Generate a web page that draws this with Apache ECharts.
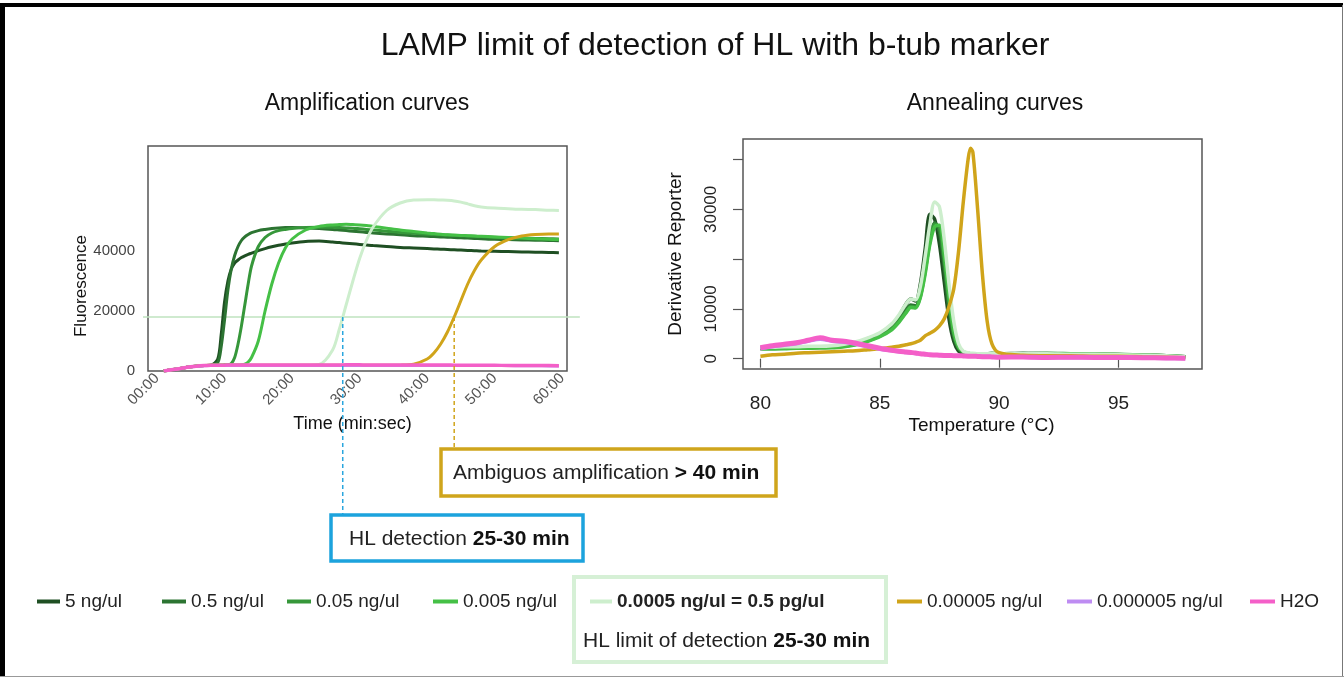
<!DOCTYPE html>
<html>
<head>
<meta charset="utf-8">
<script src="https://cdn.jsdelivr.net/npm/echarts@6/dist/echarts.min.js"></script>
<style>
html,body{margin:0;padding:0;background:#fff;}
#chart{width:1344px;height:677px;}
</style>
</head>
<body>
<div id="chart"></div>
<script>
// ---------- DATA ----------
const seriesNames = ['5 ng/ul', '0.5 ng/ul', '0.05 ng/ul', '0.005 ng/ul', '0.0005 ng/ul', '0.00005 ng/ul', '0.000005 ng/ul', 'H2O'];

// Amplification curves: time in minutes, fluorescence
const ampTime = [1,3,5,7,8,9,9.5,10,10.5,11,11.5,12,12.5,13,13.5,14,15,16,17,18,19,20,22,24,26,27,28,29,30,31,32,34,36,38,40,41,42,43,44,45,46,47,48,50,52,54,56,58,59.5];
const amp5ng = [0,700,1400,1800,1900,4000,12000,23000,30000,34000,36000,37000,37800,38400,38900,39300,40100,40800,41400,41900,42300,42700,43200,43300,43000,42800,42600,42400,42200,42000,41800,41500,41200,41000,40800,40700,40600,40500,40400,40300,40200,40100,40000,39900,39800,39700,39600,39500,39400];
const amp05ng = [0,700,1400,1800,1900,2800,8000,17000,27000,34000,38500,41500,43500,44700,45500,46100,46800,47200,47500,47700,47800,47800,47700,47500,47200,47000,46800,46600,46400,46200,46000,45700,45400,45100,44900,44800,44700,44600,44500,44400,44300,44200,44100,43900,43800,43700,43600,43500,43400];
const amp005ng = [0,700,1400,1800,1900,1950,2000,2050,2100,2500,4500,9000,15000,22000,29000,35000,41500,44500,46000,46800,47200,47500,47800,47900,47900,47800,47700,47600,47400,47200,47000,46600,46200,45900,45600,45500,45400,45300,45200,45100,45000,44900,44800,44600,44400,44300,44200,44100,44000];
const amp0005ng = [0,700,1400,1800,1900,1950,1950,1950,1950,2000,2000,2000,2100,2300,3000,4500,10000,20000,29000,36000,41000,44000,47000,48200,48700,48800,48900,48800,48700,48500,48200,47600,47000,46500,46000,45800,45600,45400,45300,45200,45100,45000,44900,44700,44500,44300,44100,43900,43800];
const amp00005ng = [0,700,1400,1800,1900,1900,1900,1900,1900,1900,1900,1900,1900,1900,1900,1900,1900,1900,1900,1900,1900,1950,1950,2200,7000,14000,22000,30000,37500,43500,48000,53500,56000,57000,57100,57100,57000,56900,56700,56300,55700,55100,54700,54300,54100,53900,53800,53600,53500];
const amp000005ng = [0,700,1400,1800,1900,1900,1900,1900,1900,1900,1900,1900,1900,1900,1900,1900,1900,1900,1900,1900,1900,1900,1900,1900,1900,1900,1900,1900,1900,1900,1900,1900,1950,2300,4000,6000,9000,13000,18000,23500,29000,33500,37000,41500,43800,45000,45500,45700,45700];
const amp0000005ng = [0,700,1400,1750,1850,1850,1850,1850,1850,1850,1850,1850,1850,1850,1850,1850,1850,1850,1850,1850,1850,1850,1850,1850,1850,1850,1850,1850,1850,1850,1850,1850,1850,1850,1850,1850,1850,1850,1850,1850,1850,1850,1800,1800,1800,1750,1750,1700,1700];
const ampH2O = [0,700,1400,1800,1900,1950,1950,1950,2000,2000,2000,2000,2000,2000,2000,2000,2000,2000,2000,2000,2000,2000,2000,2000,2000,2000,2050,2050,2050,2000,2000,2000,2000,2000,2000,2000,2000,2000,1950,1950,1950,1900,1900,1900,1850,1850,1800,1800,1750];

// Annealing curves: temperature in °C, derivative reporter
const annealTemp = [80,80.5,81,81.5,82,82.5,83,83.5,84,84.5,85,85.5,85.8,86.1,86.3,86.5,86.7,86.9,87.1,87.3,87.5,87.7,87.9,88.1,88.3,88.5,88.7,88.8,88.9,89.1,89.3,89.5,89.7,90,91,92,93,94,95,96,97,97.8];
const ann5ng = [2200,2100,2200,2200,2300,2300,2400,2700,3200,4000,5000,6700,8500,11000,12000,11600,15000,22000,29000,28000,23000,15500,8000,3500,1500,1100,1000,1000,1000,1000,1000,1000,1000,1000,1000,900,900,800,800,700,600,400];
const ann05ng = [2100,2100,2100,2200,2200,2300,2300,2600,3000,3800,4700,6300,7900,9800,10800,10600,13000,18500,24500,27300,25500,18500,10000,4500,2000,1200,1000,1000,1000,1000,1000,1000,1000,1000,1100,1000,900,900,800,700,600,400];
const ann005ng = [2000,2000,2100,2100,2200,2200,2300,2500,2900,3600,4500,6000,7500,9400,10500,10400,12500,17500,23500,27000,26500,20000,11500,5000,2200,1300,1000,1000,1000,1000,1000,1000,1100,1000,1000,1100,1000,900,900,700,600,400];
const ann0005ng = [2000,2000,2000,2100,2100,2200,2200,2400,2800,3500,4400,5800,7300,9200,10300,10200,12300,17000,23000,26500,26800,21000,12500,5500,2400,1400,1100,1000,1000,1000,1000,1000,1000,1000,1000,1000,1000,900,800,700,600,400];
const ann00005ng = [2300,2300,2400,2400,2500,2500,2600,2900,3400,4200,5200,7000,8800,11000,12000,11800,14500,20500,27000,31500,30500,24000,15000,7500,3000,1500,1200,1100,1100,1000,1000,1000,1000,1000,1000,1000,900,900,800,700,600,400];
const ann000005ng = [500,800,900,1100,1200,1300,1400,1500,1600,1800,2000,2300,2500,2800,3000,3300,3700,4600,5100,5700,6600,8000,10500,14000,21500,31500,40000,42300,41500,30000,17000,7500,3000,1200,700,600,600,500,500,400,300,200];
const ann0000005ng = [2000,2400,2700,3000,3500,3900,3500,3300,2900,2400,1900,1600,1400,1250,1150,1050,950,850,750,700,650,600,600,550,550,500,500,500,500,450,450,450,400,400,300,200,200,200,150,100,50,0];
const annH2O = [2200,2600,2900,3200,3700,4200,3700,3500,3100,2600,2100,1700,1500,1350,1250,1150,1000,900,800,750,700,650,650,600,600,550,500,500,500,450,400,400,350,300,350,250,300,250,250,200,150,100];

const ampValues = [amp5ng, amp05ng, amp005ng, amp0005ng, amp00005ng, amp000005ng, amp0000005ng, ampH2O];
const annValues = [ann5ng, ann05ng, ann005ng, ann0005ng, ann00005ng, ann000005ng, ann0000005ng, annH2O];

// Tick labels
const ampTimeTicks = [0, 10, 20, 30, 40, 50, 60];
const ampFluorLabels = [0, 20000, 40000];
const annTempTicks = [80, 85, 90, 95];
const annDerivTicks = [0, 10000, 20000, 30000, 40000];
const annDerivLabels = [0, 10000, 30000];

// Annotation values
const thresholdFluor = 18000;
const hlDetectionTime = 27.5;   // min, 0.0005 ng/ul crossing
const ambiguousTime = 44;       // min, 0.00005 ng/ul crossing

// ---------- STYLE ----------
const FONT = '"Liberation Sans", Arial, Helvetica, sans-serif';
const colors = ['#1f4f23', '#2c7432', '#36973a', '#45c046', '#cdeecd', '#d0a41a', '#be8cf2', '#f45fc8'];

const chart = echarts.init(document.getElementById('chart'), null, {renderer: 'canvas'});

const series = [];
seriesNames.forEach((name, i) => {
  series.push({
    name, type: 'line', xAxisIndex: 0, yAxisIndex: 0,
    data: ampTime.map((t, k) => [t, ampValues[i][k]]),
    showSymbol: false, smooth: 0.3,
    lineStyle: {color: colors[i], width: i === 7 ? 3.5 : 3},
    itemStyle: {color: colors[i]},
    z: 3 + i, silent: true
  });
});
seriesNames.forEach((name, i) => {
  series.push({
    name, type: 'line', xAxisIndex: 1, yAxisIndex: 1,
    data: annealTemp.map((t, k) => [t, annValues[i][k]]),
    showSymbol: false, smooth: 0.3,
    lineStyle: {color: colors[i], width: i === 7 ? 5 : 3.5},
    itemStyle: {color: colors[i]},
    z: 3 + i, silent: true
  });
});

const legendPos = [
  {name: '5 ng/ul', left: 37, w: 23},
  {name: '0.5 ng/ul', left: 162, w: 24},
  {name: '0.05 ng/ul', left: 287, w: 24},
  {name: '0.005 ng/ul', left: 433, w: 25},
  {name: '0.0005 ng/ul', left: 590, w: 22, bold: true},
  {name: '0.00005 ng/ul', left: 897, w: 25},
  {name: '0.000005 ng/ul', left: 1067, w: 25},
  {name: 'H2O', left: 1250, w: 25}
];
const legends = legendPos.map(p => ({
  data: [p.name], left: p.left, top: 592, padding: 0,
  icon: 'rect', itemWidth: p.w, itemHeight: 4,
  selectedMode: false,
  formatter: n => n === '0.0005 ng/ul' ? '0.0005 ng/ul = 0.5 pg/ul' : n,
  textStyle: {fontSize: 19, color: '#222', fontFamily: FONT, fontWeight: p.bold ? 'bold' : 'normal'}
}));

const plain = v => String(v);

const option = {
  animation: false,
  backgroundColor: '#fff',
  textStyle: {fontFamily: FONT},
  title: [
    {text: 'LAMP limit of detection of HL with b-tub marker', left: 715, top: 30, textAlign: 'center', padding: 0,
     textStyle: {fontSize: 32, fontWeight: 'normal', color: '#111', fontFamily: FONT}},
    {text: 'Amplification curves', left: 367, top: 92, textAlign: 'center', padding: 0,
     textStyle: {fontSize: 23, fontWeight: 'normal', color: '#111', fontFamily: FONT}},
    {text: 'Annealing curves', left: 995, top: 92, textAlign: 'center', padding: 0,
     textStyle: {fontSize: 23, fontWeight: 'normal', color: '#111', fontFamily: FONT}}
  ],
  legend: legends,
  grid: [
    {left: 148, top: 146, width: 419, height: 225, show: true, borderColor: '#555', borderWidth: 1.5, backgroundColor: 'transparent'},
    {left: 743, top: 139, width: 459, height: 230, show: true, borderColor: '#555', borderWidth: 1.5, backgroundColor: 'transparent'}
  ],
  xAxis: [
    {gridIndex: 0, type: 'value', min: -1.33, max: 60.7,
     axisLine: {show: false}, axisTick: {show: false}, splitLine: {show: false},
     axisLabel: {customValues: ampTimeTicks, rotate: 45, margin: 5, fontSize: 15, color: '#555', fontFamily: FONT,
       formatter: v => (v < 10 ? '0' + v : String(v)) + ':00'},
     name: 'Time (min:sec)', nameLocation: 'middle', nameGap: 44,
     nameTextStyle: {fontSize: 18, color: '#111', fontFamily: FONT, padding: [0, 10, 0, 0]}},
    {gridIndex: 1, type: 'value', min: 79.27, max: 98.5,
     axisLine: {show: false}, splitLine: {show: false},
     axisTick: {show: true, customValues: annTempTicks, length: 9, lineStyle: {color: '#555', width: 1.2}},
     axisLabel: {customValues: annTempTicks, margin: 25, fontSize: 19, color: '#222', fontFamily: FONT, formatter: plain},
     name: 'Temperature (°C)', nameLocation: 'middle', nameGap: 47,
     nameTextStyle: {fontSize: 19, color: '#111', fontFamily: FONT, padding: [0, 0, 0, 18]}}
  ],
  yAxis: [
    {gridIndex: 0, type: 'value', min: 0, max: 75000,
     axisLine: {show: false}, axisTick: {show: false}, splitLine: {show: false},
     axisLabel: {customValues: ampFluorLabels, margin: 13, fontSize: 15, color: '#444', fontFamily: FONT, formatter: plain},
     name: 'Fluorescence', nameLocation: 'middle', nameGap: 54,
     nameTextStyle: {fontSize: 17, color: '#111', fontFamily: FONT, padding: [0, 55, 0, 0]}},
    {gridIndex: 1, type: 'value', min: -2070, max: 44140,
     axisLine: {show: false}, splitLine: {show: false},
     axisTick: {show: true, customValues: annDerivTicks, length: 10, lineStyle: {color: '#555', width: 1.2}},
     axisLabel: {customValues: annDerivLabels, rotate: 90, margin: 23, fontSize: 17, color: '#222', fontFamily: FONT, formatter: plain},
     name: 'Derivative Reporter', nameLocation: 'middle', nameGap: 58,
     nameTextStyle: {fontSize: 19, color: '#111', fontFamily: FONT}}
  ],
  series
};
chart.setOption(option);

// ---------- ANNOTATIONS (positioned through the axes) ----------
const toPx = (g, x, y) => chart.convertToPixel({gridIndex: g}, [x, y]);
const thrL = toPx(0, -2.07, thresholdFluor);
const thrR = toPx(0, 62.6, thresholdFluor);
const hl = toPx(0, hlDetectionTime, thresholdFluor);
const amb = toPx(0, ambiguousTime, thresholdFluor);

const goldBox = {x: 441, y: 449, w: 335, h: 47};
const blueBox = {x: 331, y: 515, w: 252, h: 46};
const greenBox = {x: 574, y: 577, w: 312, h: 85};

const rich = {
  n: {fontSize: 21, fontFamily: FONT, fill: '#222'},
  b: {fontSize: 21, fontFamily: FONT, fill: '#111', fontWeight: 'bold'}
};

chart.setOption({
  graphic: [
    // outer frame
    {type: 'rect', shape: {x: 0, y: 3, width: 5, height: 674}, style: {fill: '#000'}, z: 100},
    {type: 'rect', shape: {x: 0, y: 3, width: 1343, height: 4}, style: {fill: '#000'}, z: 100},
    {type: 'line', shape: {x1: 1342.5, y1: 5, x2: 1342.5, y2: 677}, style: {stroke: '#777', lineWidth: 1}, z: 100},
    {type: 'line', shape: {x1: 0, y1: 676.5, x2: 1344, y2: 676.5}, style: {stroke: '#999', lineWidth: 1}, z: 100},
    // threshold line
    {type: 'line', shape: {x1: thrL[0], y1: thrL[1], x2: thrR[0], y2: thrR[1]},
     style: {stroke: '#bfe3bf', lineWidth: 1.5}, z: 2},
    // dashed connectors
    {type: 'line', shape: {x1: hl[0], y1: hl[1], x2: hl[0], y2: blueBox.y},
     style: {stroke: '#2aa6de', lineWidth: 1.5, lineDash: [4, 3]}, z: 20},
    {type: 'line', shape: {x1: amb[0], y1: amb[1], x2: amb[0], y2: goldBox.y},
     style: {stroke: '#d0a41a', lineWidth: 1.5, lineDash: [4, 3]}, z: 20},
    // gold box
    {type: 'rect', shape: {x: goldBox.x, y: goldBox.y, width: goldBox.w, height: goldBox.h},
     style: {fill: '#fff', stroke: '#cfa51c', lineWidth: 3.5}, z: 21},
    {type: 'text', x: 453, y: goldBox.y + goldBox.h / 2 + 1, z: 22,
     style: {text: '{n|Ambiguos amplification }{b|> 40 min}', rich, verticalAlign: 'middle', align: 'left'}},
    // blue box
    {type: 'rect', shape: {x: blueBox.x, y: blueBox.y, width: blueBox.w, height: blueBox.h},
     style: {fill: '#fff', stroke: '#1ca3dd', lineWidth: 3.5}, z: 21},
    {type: 'text', x: 349, y: blueBox.y + blueBox.h / 2 + 1, z: 22,
     style: {text: '{n|HL detection }{b|25-30 min}', rich, verticalAlign: 'middle', align: 'left'}},
    // green box
    {type: 'rect', shape: {x: greenBox.x, y: greenBox.y, width: greenBox.w, height: greenBox.h},
     style: {fill: 'none', stroke: '#d6f0d6', lineWidth: 4}, z: 1},
    {type: 'text', x: 583, y: 641, z: 22,
     style: {text: '{n|HL limit of detection }{b|25-30 min}', rich, verticalAlign: 'middle', align: 'left'}}
  ]
});
</script>
</body>
</html>
